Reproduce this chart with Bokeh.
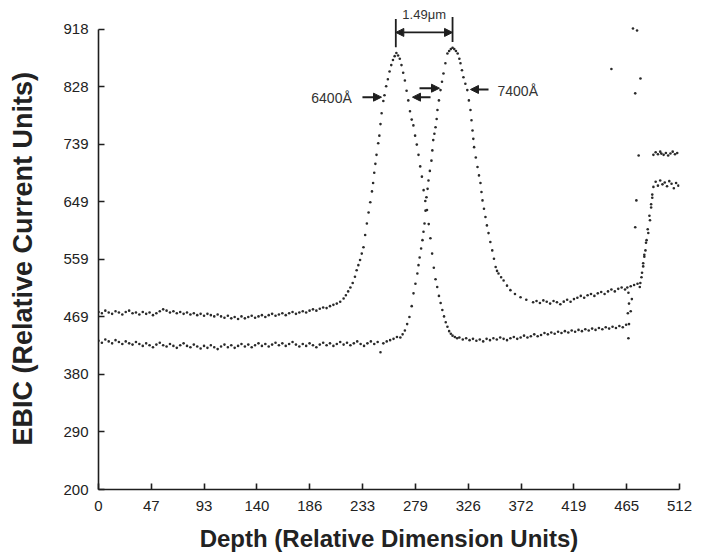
from bokeh.plotting import figure
from bokeh.models import Range1d, FixedTicker, Arrow, NormalHead, Label
from bokeh.embed import file_html
from bokeh.resources import INLINE

# ---------------- data ----------------
x_tick_labels = ["0", "47", "93", "140", "186", "233", "279", "326", "372", "419", "465", "512"]
y_tick_labels = ["200", "290", "380", "469", "559", "649", "739", "828", "918"]

# 6400 A scan: left baseline
a_left_x = [0, 3, 6, 9, 12, 15, 18, 21, 24, 27, 30, 33, 36, 39, 42, 45, 48, 51, 54, 57,
            60, 63, 66, 69, 72, 75, 78, 81, 84, 87, 90, 93, 96, 99, 102, 105, 108, 111, 114, 117,
            120, 123, 126, 129, 132, 135, 138, 141, 144, 147, 150, 153, 156, 159, 162, 165, 168, 171, 174, 177,
            180, 183, 186, 189, 192, 195, 198, 201, 204, 207, 210]
a_left_y = [477, 475, 479, 476, 474, 478, 476, 473, 477, 479, 475, 476, 473, 477, 474, 476, 472, 475, 478, 481,
            479, 476, 478, 475, 477, 474, 476, 473, 475, 472, 474, 471, 474, 472, 470, 473, 470, 468, 471, 467,
            469, 466, 470, 467, 469, 471, 468, 470, 472, 469, 472, 474, 471, 473, 475, 472, 475, 477, 474, 476,
            478, 476, 479, 481, 479, 482, 484, 483, 486, 488, 490]
# 6400 A scan: peak
a_peak_x = [213, 216, 218, 220, 222, 224, 226, 227.5, 229, 230.5, 232, 233.5, 235, 236.5, 238, 239.5, 241, 242, 243, 244,
            245, 246.5, 247.5, 248.5, 249.5, 251, 252, 253.5, 255, 256.5, 258, 259.5, 261, 262.5, 264, 265.5, 267, 268.5, 270, 271.5,
            273, 274.5, 276, 277.5, 279, 280.5, 282, 283.5, 285, 286.5, 288, 289.5, 291, 292.5, 294, 295.5, 297, 298.5, 300, 301.5,
            303, 304.5, 306, 307.5, 309, 310.5, 312, 314, 316]
a_peak_y = [493, 498, 503, 509, 515, 522, 532, 542, 550, 558, 568, 578, 597, 615, 632, 648, 665, 678, 694, 708,
            722, 740, 752, 770, 787, 806, 815, 829, 840, 852, 862, 870, 876, 881, 877, 872, 862, 850, 838, 822,
            807, 790, 777, 768, 752, 738, 722, 704, 688, 667, 650, 636, 614, 592, 568, 546, 528, 516, 502, 491,
            480, 470, 461, 454, 447, 443, 440, 438, 436]
# 6400 A scan: right baseline
a_right_x = [318, 321, 324, 327, 330, 333, 336, 339, 342, 345, 348, 351, 354, 357, 360, 363, 366, 369, 372, 375,
             378, 381, 384, 387, 390, 393, 396, 399, 402, 405, 408, 411, 414, 417, 420, 423, 426, 429, 432, 435,
             438, 441, 444, 447, 450, 453, 456, 459, 462, 465]
a_right_y = [437, 434, 436, 433, 435, 432, 434, 431, 435, 433, 436, 434, 437, 435, 433, 436, 438, 435, 437, 440,
             437, 439, 442, 439, 441, 444, 442, 445, 443, 446, 444, 447, 445, 448, 446, 449, 447, 450, 448, 451,
             449, 452, 450, 453, 451, 454, 452, 455, 453, 457]
# 6400 A scan: edge
a_edge_x = [467, 467.5, 469, 470, 477, 478.5, 480, 481, 482.5, 484, 485.5, 487, 488, 489, 491, 493, 495, 497, 499, 501,
            503, 505, 507, 509, 511]
a_edge_y = [436, 458, 478, 497, 516, 531, 548, 566, 585, 606, 627, 645, 660, 672, 680, 674, 682, 676, 679, 673,
            681, 677, 670, 678, 674]

# 7400 A scan: left baseline
b_left_x = [0, 3, 6, 9, 12, 15, 18, 21, 24, 27, 30, 33, 36, 39, 42, 45, 48, 51, 54, 57,
            60, 63, 66, 69, 72, 75, 78, 81, 84, 87, 90, 93, 96, 99, 102, 105, 108, 111, 114, 117,
            120, 123, 126, 129, 132, 135, 138, 141, 144, 147, 150, 153, 156, 159, 162, 165, 168, 171, 174, 177,
            180, 183, 186, 189, 192, 195, 198, 201, 204, 207, 210, 213, 216, 219, 222, 225, 228, 231, 234, 237,
            240, 243, 246, 248.5, 251, 254, 257, 260, 263]
b_left_y = [432, 429, 434, 431, 428, 433, 430, 427, 431, 428, 426, 430, 427, 424, 428, 425, 422, 426, 429, 425,
            423, 427, 424, 421, 425, 428, 424, 422, 426, 423, 420, 424, 421, 425, 422, 419, 423, 426, 422, 425,
            421, 424, 427, 423, 426, 422, 425, 428, 424, 427, 423, 426, 429, 425, 428, 424, 427, 430, 426, 423,
            427, 424, 428, 425, 422, 426, 429, 425, 428, 424, 427, 430, 426, 429, 425, 428, 431, 427, 424, 428,
            431, 427, 430, 414, 428, 431, 433, 435, 438]
# 7400 A scan: peak
b_peak_x = [266, 268, 270, 272, 274, 276, 277.6, 279.3, 281, 282, 283, 284.3, 285.5, 286.4, 287.3, 288.2, 289, 290, 290.8, 292,
            293.4, 294.2, 295, 296, 297, 298, 298.7, 300, 301.4, 302.7, 304, 305.7, 307.5, 309, 310.5, 312, 313.5, 315, 316.5, 318,
            319, 320.3, 321.6, 323.3, 325, 326.4, 327.8, 328.7, 329.6, 330.3, 331, 332.5, 334, 335.3, 336.6, 337.5, 338.4, 339.7, 341, 342.3,
            343.7, 345.3, 347, 348.5, 350, 351.2, 352.5, 354.8, 357, 360, 363, 367, 371.9, 377, 383]
b_peak_y = [437, 442, 448, 458, 469, 486, 506, 521, 537, 550, 562, 576, 589, 602, 615, 635, 656, 669, 682, 697,
            713, 729, 745, 755, 765, 778, 792, 807, 823, 836, 849, 865, 880, 884, 887, 889, 887, 884, 880, 872,
            865, 854, 843, 833, 823, 807, 792, 776, 760, 747, 734, 718, 703, 690, 678, 664, 651, 638, 625, 612,
            600, 586, 573, 560, 547, 541, 537, 531, 526, 518, 511, 505, 500, 496, 492]
# 7400 A scan: right baseline
b_right_x = [386, 389, 392, 395, 398, 401, 404, 407, 410, 413, 416, 419, 422, 425, 428, 431, 434, 437, 440, 443,
             446, 449, 452, 455, 458, 461, 464, 466]
b_right_y = [494, 491, 495, 493, 490, 494, 492, 489, 493, 496, 493, 497, 499, 502, 499, 503, 505, 502, 506, 508,
             505, 509, 512, 509, 513, 515, 512, 515]
# 7400 A scan: edge
b_edge_x = [469, 472, 475, 477.5, 479, 480, 481, 482, 483, 484.5, 486, 487, 488, 489, 491, 493, 495, 496, 498, 500,
            502, 504, 506, 508, 510]
b_edge_y = [517, 519, 521, 522, 538, 553, 563, 573, 589, 600, 620, 640, 655, 722, 726, 723, 727, 724, 722, 725,
            721, 724, 727, 723, 725]

# stray points near the sample edge
stray_x = [471, 474.6, 452, 477.6, 473, 476, 474, 473, 467, 467.5, 466.5]
stray_y = [919, 916, 856, 841, 818, 721, 651, 609, 507, 490, 475]

# ---------------- figure ----------------
FONT = "Liberation Sans"
INK = "#1e1e1e"
Y_MIN, Y_MAX = 200, 918

p = figure(width=701, height=554, output_backend="svg", toolbar_location=None,
           x_range=Range1d(0, 512), y_range=Range1d(Y_MIN, 955),
           min_border_left=98, min_border_right=22, min_border_top=5, min_border_bottom=65)
p.outline_line_color = None
p.xgrid.visible = False
p.ygrid.visible = False
p.background_fill_color = "white"
p.border_fill_color = "white"

n_x = len(x_tick_labels) - 1
x_ticks = [512 * i / n_x for i in range(len(x_tick_labels))]
n_y = len(y_tick_labels) - 1
y_ticks = [Y_MIN + (Y_MAX - Y_MIN) * i / n_y for i in range(len(y_tick_labels))]
p.xaxis.ticker = FixedTicker(ticks=x_ticks, minor_ticks=[])
p.yaxis.ticker = FixedTicker(ticks=y_ticks, minor_ticks=[])
p.xaxis.major_label_overrides = {t: l for t, l in zip(x_ticks, x_tick_labels)}
p.yaxis.major_label_overrides = {t: l for t, l in zip(y_ticks, y_tick_labels)}
p.yaxis.bounds = (Y_MIN, Y_MAX)

for ax in (p.xaxis[0], p.yaxis[0]):
    ax.axis_line_color = INK
    ax.axis_line_width = 1.6
    ax.major_tick_line_color = INK
    ax.major_tick_line_width = 1.6
    ax.major_tick_in = 6
    ax.major_tick_out = 0
    ax.minor_tick_line_color = None
    ax.major_label_text_font = FONT
    ax.major_label_text_font_size = "15px"
    ax.major_label_text_color = "#222222"
    ax.axis_label_text_font = FONT
    ax.axis_label_text_font_style = "bold"
    ax.axis_label_text_color = "#222222"

p.xaxis.axis_label = "Depth (Relative Dimension Units)"
# trailing no-break spaces nudge the rotated title down so it centres on the 200-918 axis
p.yaxis.axis_label = "EBIC (Relative Current Units)\u00a0\u00a0\u00a0"
p.xaxis.axis_label_text_font_size = "24px"
p.yaxis.axis_label_text_font_size = "27px"
p.xaxis.major_label_standoff = 11
p.yaxis.major_label_standoff = 10
p.xaxis.axis_label_standoff = 11
p.yaxis.axis_label_standoff = 22

DOT = "#2a2a2a"
for xs, ys in [(a_left_x, a_left_y), (a_peak_x, a_peak_y), (a_right_x, a_right_y), (a_edge_x, a_edge_y),
               (b_left_x, b_left_y), (b_peak_x, b_peak_y), (b_right_x, b_right_y), (b_edge_x, b_edge_y),
               (stray_x, stray_y)]:
    p.scatter(xs, ys, marker="circle", size=2.6, fill_color=DOT, line_color=None)

# ---------------- annotations ----------------
def head():
    return NormalHead(size=8, fill_color=INK, line_color=INK, line_width=1)

# separation marker between the two peaks
p.add_layout(Arrow(end=None, x_start=262, y_start=934, x_end=262, y_end=890, line_color=INK, line_width=1.8))
p.add_layout(Arrow(end=None, x_start=312, y_start=937, x_end=312, y_end=898, line_color=INK, line_width=1.8))
p.add_layout(Arrow(start=head(), end=head(), x_start=262, y_start=913, x_end=312, y_end=913,
                   line_color=INK, line_width=1.8))
p.add_layout(Label(x=287, y=941, text="1.49\u03bcm", text_align="center", text_baseline="middle",
                   text_font=FONT, text_font_size="13px", text_color="#333333"))

# wavelength labels and pointers
p.add_layout(Label(x=187.5, y=810, text="6400\u00c5", text_align="left", text_baseline="middle",
                   text_font=FONT, text_font_size="14px", text_color="#333333"))
p.add_layout(Arrow(end=head(), x_start=232.6, y_start=812, x_end=249.4, y_end=812, line_color=INK, line_width=2))
p.add_layout(Arrow(end=head(), x_start=292.6, y_start=812, x_end=276.7, y_end=812, line_color=INK, line_width=2))
p.add_layout(Arrow(end=head(), x_start=282.9, y_start=826, x_end=300.5, y_end=826, line_color=INK, line_width=2))
p.add_layout(Arrow(end=head(), x_start=343.7, y_start=824, x_end=327.8, y_end=824, line_color=INK, line_width=2))
p.add_layout(Label(x=351.6, y=822, text="7400\u00c5", text_align="left", text_baseline="middle",
                   text_font=FONT, text_font_size="14px", text_color="#333333"))

open("out.html", "w").write(file_html(p, INLINE))
